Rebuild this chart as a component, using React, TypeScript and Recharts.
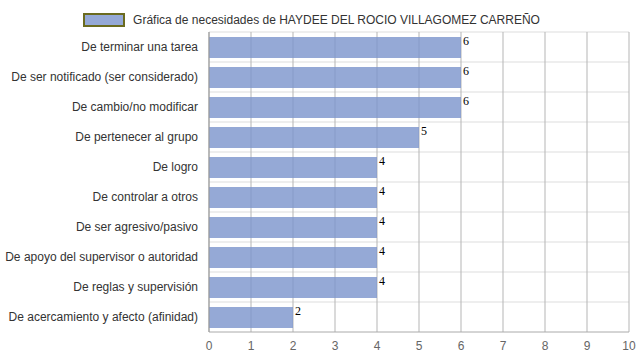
import React from "react";
import { BarChart, Bar, XAxis, YAxis, CartesianGrid, Legend, LabelList } from "recharts";

const categories = [
  "De terminar una tarea",
  "De ser notificado (ser considerado)",
  "De cambio/no modificar",
  "De pertenecer al grupo",
  "De logro",
  "De controlar a otros",
  "De ser agresivo/pasivo",
  "De apoyo del supervisor o autoridad",
  "De reglas y supervisión",
  "De acercamiento y afecto (afinidad)",
];
const values = [6, 6, 6, 5, 4, 4, 4, 4, 4, 2];
const xTicks = [0, 1, 2, 3, 4, 5, 6, 7, 8, 9, 10];
const seriesName = "Gráfica de necesidades de HAYDEE DEL ROCIO VILLAGOMEZ CARREÑO";

const data = categories.map((c, i) => ({ name: c, value: values[i] }));

const SANS = "Arial, 'Liberation Sans', sans-serif";

const LegendContent = () => (
  <div style={{ display: "flex", justifyContent: "center", alignItems: "center", fontFamily: SANS, fontSize: 12, color: "#333", height: 24, paddingRight: 6 }}>
    <span style={{ display: "inline-block", width: 38, height: 10, background: "#95a9d6", border: "2px solid #6b6b1f", marginRight: 8 }} />
    <span>{seriesName}</span>
  </div>
);

const ValueLabel = (props: any) => {
  const { x, y, width, value } = props;
  return (
    <text x={x + width + 2} y={y + 8} fontFamily="'Liberation Serif', 'Times New Roman', serif" fontSize={12} fill="#000">
      {value}
    </text>
  );
};

const YTick = (props: any) => {
  const { x, y, payload } = props;
  return (
    <text x={x} y={y} dy={4} textAnchor="end" fontFamily={SANS} fontSize={12} fill="#333">
      {payload.value}
    </text>
  );
};

const XTick = (props: any) => {
  const { x, y, payload } = props;
  return (
    <text x={x} y={y} dy={10} textAnchor="middle" fontFamily={SANS} fontSize={12} fill="#666">
      {payload.value}
    </text>
  );
};

export default function App() {
  return (
    <div style={{ position: "absolute", left: 0, top: 0, width: 639, height: 360 }}>
      <BarChart
        width={639}
        height={360}
        data={data}
        layout="vertical"
        margin={{ top: 8, right: 10, bottom: 0, left: 0 }}
        barCategoryGap={0}
        style={{ overflow: "visible" }}
      >
        <Legend verticalAlign="top" height={24} content={<LegendContent />} />
        <CartesianGrid
          stroke="#ddd"
          vertical={false}
          horizontalCoordinatesGenerator={({ offset }: any) =>
            categories.map((_, i) => offset.top + (i * offset.height) / categories.length)
          }
        />
        <CartesianGrid stroke="#b5b5b5" horizontal={false} />
        <XAxis
          type="number"
          domain={[0, 10]}
          ticks={xTicks}
          height={28}
          tickLine={false}
          axisLine={{ stroke: "#aaa" }}
          tick={<XTick />}
          interval={0}
        />
        <YAxis
          type="category"
          dataKey="name"
          width={209}
          tickLine={false}
          axisLine={{ stroke: "#999" }}
          tick={<YTick />}
          tickMargin={5}
          interval={0}
        />
        <Bar dataKey="value" name={seriesName} fill="#7b93cc" fillOpacity={0.8} barSize={21} isAnimationActive={false}>
          <LabelList dataKey="value" content={<ValueLabel />} />
        </Bar>
      </BarChart>
    </div>
  );
}
